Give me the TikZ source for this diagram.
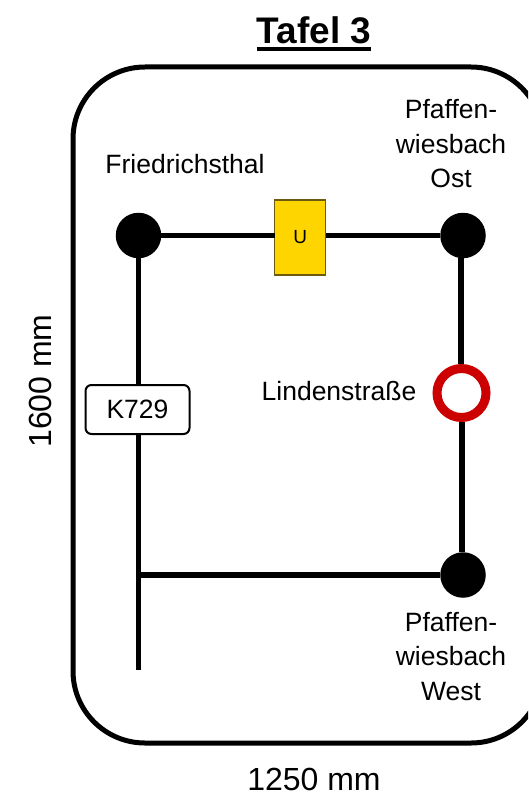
\documentclass[tikz,border=0pt]{standalone}
\usepackage{fontspec}
\setmainfont{Liberation Sans}
\definecolor{signyellow}{HTML}{FFD500}
\definecolor{signedge}{HTML}{6B5A10}
\definecolor{ringred}{HTML}{CC0000}
\tikzset{
  every node/.style={text=black,inner sep=0pt,outer sep=0pt},
  line/.style={line width=5.3pt,black},
  halt/.style={circle,fill=black,minimum size=45.5pt},
  ring/.style={circle,draw=ringred,fill=white,line width=9pt,minimum size=49pt},
  label/.style={font=\fontsize{26.5}{34.5}\selectfont,align=center},
  dim/.style={font=\fontsize{32}{36}\selectfont},
  road/.style={draw=black,fill=white,line width=2pt,rounded corners=6pt,minimum width=104pt,minimum height=49pt,font=\fontsize{26.5}{30}\selectfont},
  ubox/.style={draw=signedge,fill=signyellow,line width=1.2pt,minimum width=51pt,minimum height=75pt,font=\fontsize{19}{21}\selectfont}
}
\begin{document}
\begin{tikzpicture}[x=1pt,y=-1pt]
\useasboundingbox (0,0) rectangle (528,797);
\clip (0,0) rectangle (528,797);
\draw[line width=5pt,black,rounded corners=72pt] (73,67) rectangle (543,743);
\coordinate (end) at (138.5,670);
\coordinate (junction) at (138.5,575);
\node[halt] (fr) at (138.5,235.5) {};
\node[halt] (ost) at (463,235.5) {};
\node[halt] (west) at (463,575) {};
\node[ring] (lin) at (461.5,393) {};
\node[ubox] (u) at (300.3,237.5) {U};
\node[road] (k) at (137.5,409.5) {K729};
\draw[line] (fr.east) -- (fr.east -| u.west);
\draw[line] (ost.west -| u.east) -- (ost.west);
\draw[line] (fr.south) -- (k.north -| fr.south);
\draw[line] (k.south -| end) -- (end);
\draw[line] (junction) -- (west.west);
\draw[line,shorten >=4.5pt] (ost.south -| 461,0) -- (lin.north -| 461,0);
\draw[line,shorten >=4.5pt] (west.north -| 462,0) -- (lin.south -| 462,0);
\node[font=\fontsize{37}{40}\selectfont\bfseries,anchor=base] (title) at (314,44) {Tafel 3};
\draw[line width=3.3pt,black] ([yshift=-5pt]title.base west) -- ([yshift=-5pt]title.base east);
\node[label,anchor=base] (lfr) at (185,173) {Friedrichsthal};
\node[label] (lost) at (451,144) {Pfaffen-\\wiesbach\\Ost};
\node[label,anchor=base] (llin) at (339,400) {Lindenstraße};
\node[label] (lwest) at (451,656.5) {Pfaffen-\\wiesbach\\West};
\node[dim,anchor=base] (w) at (314,790) {1250 mm};
\node[dim,anchor=base,rotate=90] (h) at (51,381) {1600 mm};
\end{tikzpicture}
\end{document}
